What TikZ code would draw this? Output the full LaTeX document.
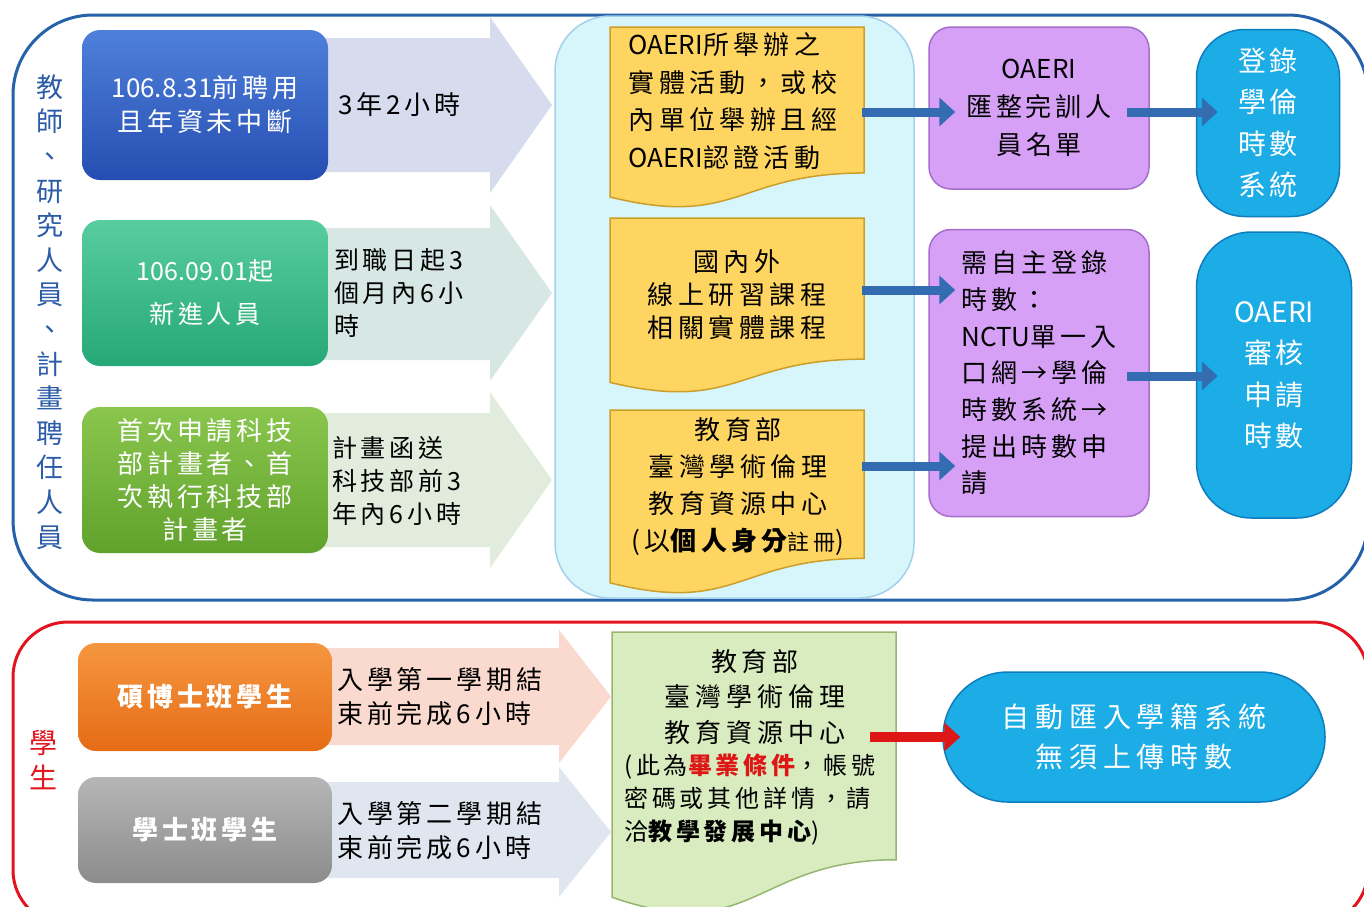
\documentclass[tikz,border=0pt]{standalone}
\usepackage{fontspec}
\setmainfont{Noto Sans CJK TC}[LetterSpace=15]
\newfontfamily\latin{Noto Sans CJK TC}
\usetikzlibrary{arrows.meta,calc}

\definecolor{frameblue}{RGB}{37,98,170}
\definecolor{framered}{RGB}{226,20,30}
\definecolor{staffblue}{RGB}{44,92,168}
\definecolor{panelcyan}{RGB}{214,246,252}
\definecolor{paneledge}{RGB}{165,208,236}
\definecolor{docyellow}{RGB}{255,213,98}
\definecolor{docyedge}{RGB}{205,158,40}
\definecolor{docgreen}{RGB}{216,236,192}
\definecolor{docgedge}{RGB}{150,182,112}
\definecolor{lilac}{RGB}{214,160,246}
\definecolor{lilacedge}{RGB}{165,110,205}
\definecolor{skyblue}{RGB}{28,172,230}
\definecolor{skyedge}{RGB}{14,125,190}
\definecolor{linkblue}{RGB}{52,108,178}
\definecolor{linkred}{RGB}{222,22,22}
\definecolor{arrowlav}{RGB}{214,219,238}
\definecolor{arrowsage}{RGB}{214,231,228}
\definecolor{arrowmoss}{RGB}{225,236,220}
\definecolor{arrowpeach}{RGB}{250,217,207}
\definecolor{arrowmist}{RGB}{223,230,240}
\definecolor{bonetop}{RGB}{78,128,218}
\definecolor{bonebot}{RGB}{38,78,178}
\definecolor{btwotop}{RGB}{88,205,160}
\definecolor{btwobot}{RGB}{38,168,118}
\definecolor{bthreetop}{RGB}{138,198,78}
\definecolor{bthreebot}{RGB}{96,162,44}
\definecolor{orangetop}{RGB}{246,150,64}
\definecolor{orangebot}{RGB}{230,108,22}
\definecolor{greytop}{RGB}{182,182,182}
\definecolor{greybot}{RGB}{140,140,140}

% colour, x0, xh, xt, body top, body bottom, head top, head bottom
\newcommand{\bigarrow}[8]{
\fill[#1] (#2,#5) -- (#3,#5) -- (#3,#7) -- (#4,{(#7+#8)/2}) -- (#3,#8) -- (#3,#6) -- (#2,#6) -- cycle;
}
% style, x0, y0, x1, height
\newcommand{\docbox}[5]{
\filldraw[#1] (#2,#3) -- (#4,#3) -- (#4,{#3+0.802*#5})
    .. controls ({(#2+#4)/2},{#3+0.802*#5}) and ({(#2+#4)/2},{#3+1.107*#5}) .. (#2,{#3+0.934*#5}) -- cycle;
}

\begin{document}
\begin{tikzpicture}[x=1pt,y=-1pt,
    txt/.style={inner sep=0pt,align=center,font=\fontsize{26}{37}\selectfont},
    startbox/.style={rounded corners=18pt,minimum width=246pt,inner sep=0pt,align=center,
        text=white,font=\fontsize{26}{34}\selectfont},
    lilacbox/.style={rounded corners=22pt,fill=lilac,draw=lilacedge,line width=1.5pt,
        minimum width=220pt,inner sep=0pt,font=\fontsize{26}{37}\selectfont},
    skybox/.style={fill=skyblue,draw=skyedge,line width=1.5pt,inner sep=0pt,align=center,
        text=white,font=\fontsize{28}{41.5}\selectfont\addfontfeatures{LetterSpace=14}},
    link/.style={line width=9pt,draw=linkblue,-{Triangle[length=16pt,width=28pt]}},
]
\useasboundingbox (0,0) rectangle (1364,906);

% frames
\draw[frameblue,line width=3pt,rounded corners=80pt] (13,15) rectangle (1368,600);
\draw[framered,line width=3pt,rounded corners=55pt] (13,622) rectangle (1368,925);

\node[txt,text=staffblue,font=\fontsize{27}{34.6}\selectfont] (staff) at (50,312)
    {教\\師\\、\\研\\究\\人\\員\\、\\計\\畫\\聘\\任\\人\\員};
\node[txt,text=framered,font=\fontsize{28}{35}\selectfont] (stu) at (43,760) {學\\生};

\bigarrow{arrowlav}{320}{490}{552}{38}{172}{17}{193}
\bigarrow{arrowsage}{320}{490}{552}{228}{360}{205}{381}
\bigarrow{arrowmoss}{320}{490}{552}{413}{547}{392}{568}
\bigarrow{arrowpeach}{325}{559}{611}{648}{745}{630}{763}
\bigarrow{arrowmist}{325}{559}{611}{782}{878}{767}{897}

\node[startbox,minimum height=150pt,top color=bonetop,bottom color=bonebot] (b1) at (205,105)
    {{\latin 106.8.31}前聘用\\且年資未中斷};
\node[startbox,minimum height=146pt,top color=btwotop,bottom color=btwobot,
    font=\fontsize{25}{43}\selectfont] (b2) at (205,293) {{\latin 106.09.01}起\\新進人員};
\node[startbox,minimum height=146pt,top color=bthreetop,bottom color=bthreebot,
    font=\fontsize{26}{33}\selectfont] (b3) at (205,480)
    {首次申請科技\\部計畫者、首\\次執行科技部\\計畫者};
\node[startbox,minimum width=254pt,minimum height=108pt,top color=orangetop,bottom color=orangebot,
    font=\fontsize{26}{34}\bfseries] (ms) at (205,697) {碩博士班學生};
\node[startbox,minimum width=254pt,minimum height=106pt,top color=greytop,bottom color=greybot,
    font=\fontsize{26}{34}\bfseries] (ba) at (205,830) {學士班學生};

\node[txt,anchor=west] (t1) at (338,105) {3年2小時};
\node[txt,anchor=west,align=left,font=\fontsize{25}{33}\selectfont] (t2) at (334,293)
    {到職日起3\\個月內6小\\時};
\node[txt,anchor=west,align=left,font=\fontsize{25}{33}\selectfont] (t3) at (332,481)
    {計畫函送\\科技部前3\\年內6小時};
\node[txt,anchor=west,align=left,font=\fontsize{26}{34}\selectfont] (t4) at (337,697)
    {入學第一學期結\\束前完成6小時};
\node[txt,anchor=west,align=left,font=\fontsize{26}{34}\selectfont] (t5) at (337,831)
    {入學第二學期結\\束前完成6小時};

% activities
\filldraw[fill=panelcyan,draw=paneledge,line width=1.5pt,rounded corners=55pt] (555,16) rectangle (914,598);
\docbox{fill=docyellow,draw=docyedge,line width=1.5pt}{610}{27}{864}{182}
\docbox{fill=docyellow,draw=docyedge,line width=1.5pt}{610}{218}{864}{176}
\docbox{fill=docyellow,draw=docyedge,line width=1.5pt}{610}{410}{864}{185}
\node[txt,align=left,font=\fontsize{26}{37.5}\selectfont\addfontfeatures{LetterSpace=17}] (y1) at (733,101)
    {{\latin OAERI}所舉辦之\\實體活動，或校\\內單位舉辦且經\\{\latin OAERI}認證活動};
\node[txt,font=\fontsize{26}{33}\selectfont\addfontfeatures{LetterSpace=17}] (y2) at (737,295)
    {國內外\\線上研習課程\\相關實體課程};
\node[txt,font=\fontsize{26}{37}\selectfont\addfontfeatures{LetterSpace=17}] (y3) at (738,486)
    {教育部\\臺灣學術倫理\\教育資源中心\\(以{\bfseries 個人身分}{\fontsize{22}{22}\selectfont 註冊})};
\coordinate (y1e) at (862,112);
\coordinate (y2e) at (862,290);
\coordinate (y3e) at (862,466);

\node[lilacbox,minimum height=162pt,align=center,font=\fontsize{26}{38}\selectfont] (p1) at (1039,108)
    {{\latin OAERI}\\匯整完訓人\\員名單};
\node[lilacbox,minimum height=287pt,align=left,font=\fontsize{26}{36.7}\selectfont] (p2) at (1039,373)
    {需自主登錄\\時數：\\{\latin NCTU}單一入\\口網→學倫\\時數系統→\\提出時數申\\請};
\node[skybox,rounded corners=48pt,minimum width=143pt,minimum height=187pt] (c1) at (1268,123)
    {登錄\\學倫\\時數\\系統};
\node[skybox,rounded corners=55pt,minimum width=155pt,minimum height=286pt] (c2) at (1274,375)
    {{\latin OAERI}\\審核\\申請\\時數};

\draw[link] (y1e) -- ($(y1e -| p1.west)+(27,0)$);
\draw[link] (y2e) -- ($(y2e -| p2.west)+(27,0)$);
\draw[link] (y3e) -- ($(y3e -| p2.west)+(27,0)$);
\draw[link] ($(p1.east |- y1e)+(-23,0)$) -- ($(c1.west |- y1e)+(22,0)$);
\draw[link] ($(p2.east)+(-23,3)$) -- ($(c2.west |- p2.east)+(22,3)$);

% students
\docbox{fill=docgreen,draw=docgedge,line width=1.5pt}{612}{632}{896}{284}
\node[txt,font=\fontsize{26}{35.5}\selectfont\addfontfeatures{LetterSpace=19}] (g1) at (755,697)
    {教育部\\臺灣學術倫理\\教育資源中心};
\node[txt,anchor=west,align=left,font=\fontsize{24}{33}\selectfont\addfontfeatures{LetterSpace=16}] (g2) at (624,800)
    {(此為{\color{linkred}\bfseries 畢業條件}，帳號\\密碼或其他詳情，請\\洽{\bfseries 教學發展中心})};
\coordinate (ge) at (870,737);
\node[skybox,rounded corners=65pt,minimum width=382pt,minimum height=130pt,
    font=\fontsize{28}{40}\selectfont\addfontfeatures{LetterSpace=21}] (auto) at (1134,737)
    {自動匯入學籍系統\\無須上傳時數};
\draw[link,draw=linkred,line width=10pt] (ge) -- ($(ge -| auto.west)+(18,0)$);
\end{tikzpicture}
\end{document}
